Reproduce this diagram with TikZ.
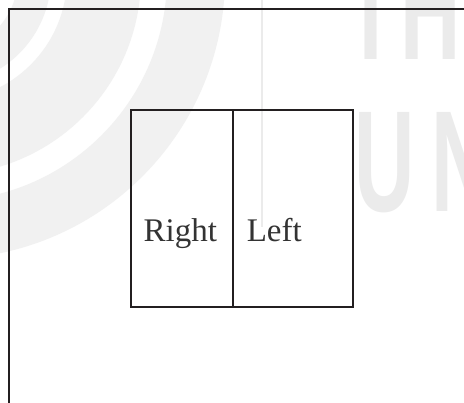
\documentclass[tikz,border=0pt]{standalone}
\usepackage{fontspec}
\setmainfont{Liberation Serif}
\newfontfamily\wmfont{Liberation Sans}
\definecolor{ink}{HTML}{231F20}
\definecolor{txt}{HTML}{333333}
\definecolor{wmark}{HTML}{EBEBEB}
\definecolor{wmarc}{HTML}{F1F1F1}
\begin{document}
\begin{tikzpicture}[x=1pt,y=-1pt,
  frameline/.style={draw=ink,line width=1.7pt},
  cell/.style={draw=ink,line width=1.7pt,rectangle,inner sep=0pt,anchor=north west},
  lbl/.style={font=\fontsize{33}{37}\selectfont,text=txt,anchor=base west,inner sep=0pt},
  wmletter/.style={font=\wmfont\bfseries\fontsize{144}{150}\selectfont,text=wmark,anchor=base west,inner sep=0pt,xscale=0.58}]
\useasboundingbox (0,0) rectangle (464,403);
\fill[white] (0,0) rectangle (464,403);
% faint watermark
\begin{scope}
  \clip (0,0) rectangle (464,403);
  \fill[wmarc,even odd rule] (-57,-23) circle[radius=282pt] circle[radius=224pt];
  \fill[wmarc,even odd rule] (-57,-23) circle[radius=198pt] circle[radius=124pt];
  \fill[wmarc,even odd rule] (-57,-23) circle[radius=108pt] circle[radius=75pt];
  \draw[wmark,line width=1.5pt] (262,0) -- (262,227);
  \node[wmletter] (wT) at (345,60) {T};
  \node[wmletter] (wH) at (400,60) {H};
  \node[wmletter] (wU) at (354,212) {U};
  \node[wmletter] (wN) at (431,212) {N};
\end{scope}
% outer frame
\draw[frameline] (9,403) -- (9,9) -- (464,9);
% boxes
\node[cell,minimum width=102pt,minimum height=197pt] (right) at (130,109) {};
\node[cell,minimum width=120pt,minimum height=197pt] (left) at (232,109) {};
\node[lbl] (rt) at (143.5,242) {Right};
\node[lbl] (lt) at (246.6,242) {Left};
\end{tikzpicture}
\end{document}
